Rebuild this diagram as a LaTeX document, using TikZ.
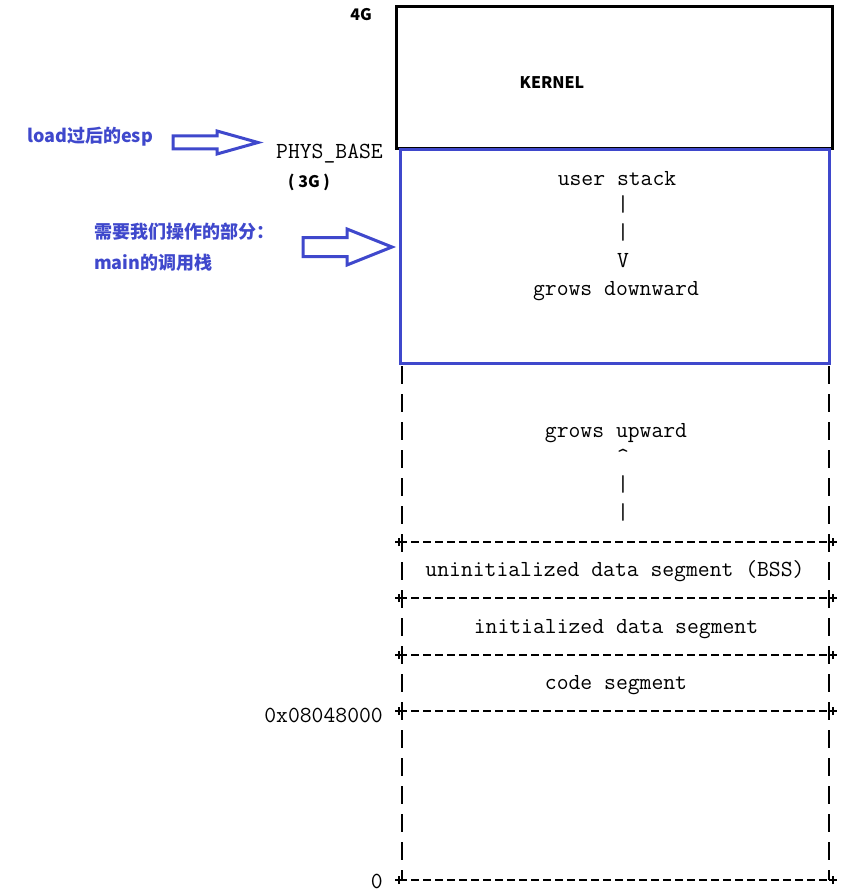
\documentclass[tikz,border=0pt]{standalone}
\usepackage{fontspec}
\newfontfamily\cjk{Noto Sans CJK SC}
\definecolor{myblue}{RGB}{63,72,204}
\begin{document}
\begin{tikzpicture}[x=1pt,y=-1pt,
  tt/.style={font=\fontsize{23}{26}\selectfont\ttfamily, inner sep=0pt, anchor=mid, yshift=-3pt},
  sansb/.style={font=\cjk\bfseries\fontsize{16}{19}\selectfont, inner sep=0pt},
  bluetxt/.style={sansb, text=myblue, font=\cjk\bfseries\fontsize{18}{21}\selectfont, anchor=west},
  hdash/.style={line width=1.8pt, dash pattern=on 8pt off 4pt},
  vdash/.style={line width=1.8pt, dash pattern=on 18pt off 10pt},
  plus/.style={line width=1.5pt},
  blockarrow/.style={draw=myblue, line width=3pt, line join=miter}]
\useasboundingbox (0,0) rectangle (848,893);
% kernel box
\draw[line width=3pt] (396,7) rectangle (832,149);
\node[sansb] (k4g) at (361,15) {4G};
\node[sansb] (kern) at (552,83) {KERNEL};
% user stack box
\draw[myblue, line width=3pt] (400,150) rectangle (829,363);
\node[tt] (us) at (617,180) {user stack};
\node[tt] (b1) at (623,206) {|};
\node[tt] (b2) at (623,234) {|};
\node[tt] (vv) at (623,262) {V};
\node[tt] (gd) at (616,290) {grows downward};
% left labels
\node[tt, anchor=east] (phys) at (383,151) {PHYS\_BASE};
\node[sansb] (g3) at (309,182) {( 3G )};
\node[bluetxt] (esp) at (27,137) {load过后的esp};
\node[bluetxt] (need) at (94,232) {需要我们操作的部分：};
\node[bluetxt] (mainst) at (94,263) {main的调用栈};
% block arrows
\draw[blockarrow] (173,136) -- (217,136) -- (217,131) -- (258,142.5) -- (217,154) -- (217,149) -- (173,149) -- cycle;
\draw[blockarrow] (303,237.5) -- (347,237.5) -- (347,229) -- (392,247) -- (347,265) -- (347,256.5) -- (303,256.5) -- cycle;
% vertical dashed sides
\coordinate (lt) at (402,366);
\coordinate (lb) at (402,880);
\coordinate (rt) at (829,366);
\coordinate (rb) at (829,880);
\draw[vdash] (lt) -- (lb);
\draw[vdash] (rt) -- (rb);
% growth area
\node[tt] (gu) at (616,432) {grows upward};
\node[tt] (caret) at (623,458) {\^{}};
\node[tt] (b3) at (623,486) {|};
\node[tt] (b4) at (623,514) {|};
% horizontal separators
\foreach \yy/\nm in {542/s1,598/s2,655/s3,711/s4,880/s5}{
  \coordinate (\nm l) at (399,\yy);
  \coordinate (\nm r) at (833,\yy);
  \draw[hdash] (\nm l) -- (\nm r);
  \draw[plus] ([xshift=-4pt]\nm l) -- ([xshift=4pt]\nm l) ([yshift=-4pt]\nm l) -- ([yshift=4pt]\nm l);
  \draw[plus] ([xshift=-4pt]\nm r) -- ([xshift=4pt]\nm r) ([yshift=-4pt]\nm r) -- ([yshift=4pt]\nm r);
}
\node[tt] (bss) at (615,571) {uninitialized data segment (BSS)};
\node[tt] (ids) at (616,628) {initialized data segment};
\node[tt] (cs) at (616,684) {code segment};
\node[tt, anchor=east] (addr) at (383,712) {0x08048000};
\node[tt, anchor=east] (zero) at (383,878) {0};
\end{tikzpicture}
\end{document}
